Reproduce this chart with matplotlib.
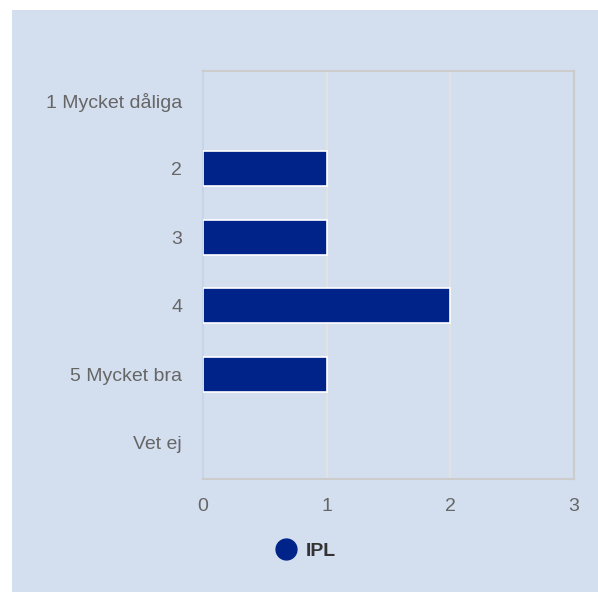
import matplotlib.pyplot as plt
from matplotlib.lines import Line2D
from matplotlib.patches import Rectangle

plt.rcParams['font.family'] = ['Liberation Sans', 'DejaVu Sans']

categories = ["1 Mycket dåliga", "2", "3", "4", "5 Mycket bra", "Vet ej"]
values = [0, 1, 1, 2, 1, 0]
series_name = "IPL"

bar_color = "#00238a"
bg_color = "#d3deef"

fig = plt.figure(figsize=(5.98, 5.92), dpi=100)
fig.patch.set_facecolor("white")
fig.patches.append(Rectangle((12 / 598, 0), 1, 1 - 10 / 592, transform=fig.transFigure,
                             facecolor=bg_color, edgecolor="none", zorder=-10))

ax = fig.add_axes([203 / 598, 113 / 592, 371 / 598, 408 / 592])
ax.set_facecolor(bg_color)
ypos = list(range(len(categories)))
widths = [1.2 if v > 0 else 0 for v in values]
ax.barh(ypos, values, height=0.51, color=bar_color, edgecolor="white", linewidth=widths, zorder=3)

ax.set_xlim(0, 3)
ax.set_ylim(5.525, -0.423)
ax.set_xticks([0, 1, 2, 3])
ax.set_yticks(ypos)
ax.set_yticklabels(categories)
ax.tick_params(axis="both", length=0, labelsize=14, labelcolor="#666666")
ax.tick_params(axis="y", pad=15)
ax.tick_params(axis="x", pad=14)
ax.grid(axis="x", color="#e2e2e2", linewidth=1.5, zorder=1)
for s in ax.spines.values():
    s.set_color("#cccccc")
    s.set_linewidth(1.5)
ax.spines["left"].set_color("#c8d4e8")

handle = Line2D([], [], marker="o", linestyle="none", markersize=15,
                color=bar_color)
leg = fig.legend([handle], [series_name], loc="center", bbox_to_anchor=(301 / 598, 1 - 551 / 592),
                 frameon=False, handletextpad=0.0, prop={"weight": "bold", "size": 14})
for t in leg.get_texts():
    t.set_color("#333333")

fig.savefig("out.png", dpi=100, facecolor=fig.get_facecolor())
